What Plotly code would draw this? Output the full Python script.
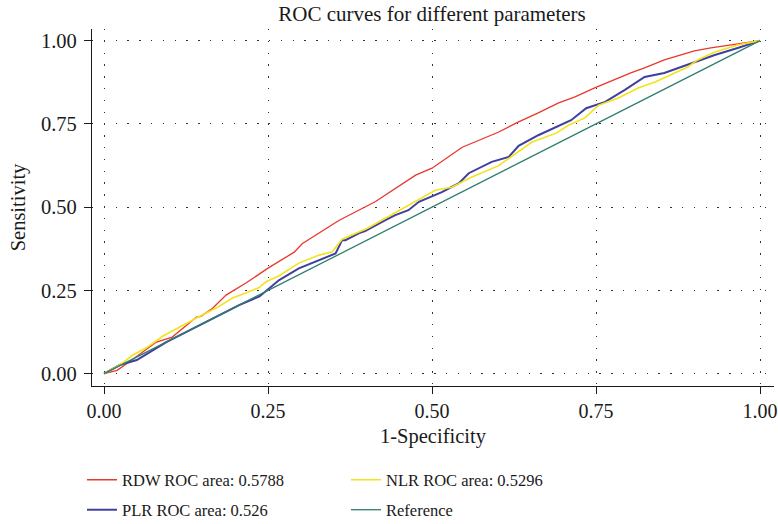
import plotly.graph_objects as go

# ---------------- data ----------------
rdw_x = [0.0, 0.02, 0.036, 0.08, 0.104, 0.141, 0.148, 0.166, 0.186, 0.217, 0.25, 0.29, 0.302,
         0.358, 0.414, 0.475, 0.5, 0.546, 0.601, 0.632, 0.662, 0.693, 0.718, 0.748, 0.803,
         0.824, 0.854, 0.9, 0.925, 0.966, 1.0]
rdw_y = [0.0, 0.01, 0.032, 0.095, 0.11, 0.17, 0.172, 0.197, 0.236, 0.273, 0.317, 0.365, 0.39,
         0.46, 0.517, 0.596, 0.617, 0.68, 0.725, 0.756, 0.783, 0.813, 0.831, 0.858, 0.903,
         0.918, 0.942, 0.969, 0.978, 0.99, 1.0]

plr_x = [0.0, 0.024, 0.05, 0.07, 0.095, 0.125, 0.146, 0.171, 0.206, 0.237, 0.257, 0.267, 0.297,
         0.328, 0.353, 0.363, 0.368, 0.389, 0.398, 0.429, 0.444, 0.464, 0.48, 0.515, 0.541,
         0.556, 0.591, 0.617, 0.632, 0.662, 0.688, 0.712, 0.735, 0.764, 0.794, 0.824, 0.854,
         0.88, 0.905, 0.931, 0.966, 1.0]
plr_y = [0.0, 0.026, 0.041, 0.065, 0.095, 0.125, 0.146, 0.17, 0.206, 0.232, 0.263, 0.281, 0.316,
         0.341, 0.361, 0.401, 0.401, 0.422, 0.428, 0.461, 0.476, 0.491, 0.516, 0.545, 0.572,
         0.602, 0.636, 0.651, 0.684, 0.716, 0.74, 0.761, 0.797, 0.816, 0.852, 0.891, 0.903,
         0.921, 0.939, 0.957, 0.978, 1.0]

nlr_x = [0.0, 0.024, 0.044, 0.064, 0.09, 0.12, 0.141, 0.171, 0.196, 0.216, 0.236, 0.247, 0.267,
         0.297, 0.328, 0.348, 0.363, 0.401, 0.449, 0.475, 0.505, 0.53, 0.56, 0.601, 0.621,
         0.652, 0.69, 0.708, 0.733, 0.754, 0.784, 0.814, 0.84, 0.87, 0.89, 0.905, 0.931,
         0.966, 1.0]
nlr_y = [0.0, 0.026, 0.056, 0.077, 0.113, 0.146, 0.167, 0.197, 0.227, 0.242, 0.258, 0.276, 0.294,
         0.332, 0.356, 0.366, 0.404, 0.436, 0.488, 0.516, 0.551, 0.56, 0.59, 0.624, 0.652,
         0.695, 0.723, 0.746, 0.768, 0.806, 0.828, 0.858, 0.876, 0.903, 0.921, 0.942, 0.966,
         0.987, 1.0]

ref_x = [0.0, 1.0]
ref_y = [0.0, 1.0]

names = ["RDW ROC area: 0.5788", "PLR ROC area: 0.526", "NLR ROC area: 0.5296", "Reference"]
tick_vals = [0.0, 0.25, 0.5, 0.75, 1.0]
tick_text = ["0.00", "0.25", "0.50", "0.75", "1.00"]

FONT = "Liberation Serif"
TXT = "#1a1a1a"

fig = go.Figure()
fig.add_trace(go.Scatter(x=rdw_x, y=rdw_y, mode="lines", name=names[0],
                         line=dict(color="#E8382B", width=1.3), legend="legend"))
fig.add_trace(go.Scatter(x=plr_x, y=plr_y, mode="lines", name=names[1],
                         line=dict(color="#3F3FA0", width=2.0), legend="legend2"))
fig.add_trace(go.Scatter(x=nlr_x, y=nlr_y, mode="lines", name=names[2],
                         line=dict(color="#F3E31B", width=1.6), legend="legend3"))
fig.add_trace(go.Scatter(x=ref_x, y=ref_y, mode="lines", name=names[3],
                         line=dict(color="#2E7C6F", width=1.3), legend="legend4"))

def px_x(p):
    return (p - 92) / 682.0

def px_y(p):
    return (386 - p) / 357.0

leg_common = dict(font=dict(family=FONT, size=16.5, color=TXT), bgcolor="rgba(0,0,0,0)",
                  xanchor="left", yanchor="middle", itemwidth=30)

fig.update_layout(
    width=778, height=524,
    margin=dict(l=92, r=4, t=29, b=138, autoexpand=False),
    paper_bgcolor="white", plot_bgcolor="white",
    font=dict(family=FONT, size=20.5, color=TXT),
    title=dict(text="ROC curves for different parameters", x=432 / 778, xref="container",
               xanchor="center", y=1 - 14 / 524, yref="container", yanchor="middle",
               font=dict(family=FONT, size=21, color=TXT)),
    legend=dict(x=px_x(82), y=px_y(480), **leg_common),
    legend2=dict(x=px_x(82), y=px_y(510), **leg_common),
    legend3=dict(x=px_x(346), y=px_y(480), **leg_common),
    legend4=dict(x=px_x(346), y=px_y(510), **leg_common),
    showlegend=True,
)

axis_common = dict(showline=True, linecolor=TXT, linewidth=1.3, ticks="outside",
                   ticklen=7, tickwidth=1.2, tickcolor=TXT, showgrid=True,
                   gridcolor="#333333", gridwidth=1.3, griddash="1.3px,10.5px",
                   zeroline=False, tickvals=tick_vals, ticktext=tick_text,
                   ticklabeloverflow="allow", mirror=False)

fig.update_xaxes(range=[-0.0183, 1.0213], title=dict(text="1-Specificity", standoff=7,
                 font=dict(family=FONT, size=20.5)),
                 tickfont=dict(family=FONT, size=20, color=TXT), **axis_common)
fig.update_yaxes(range=[-0.037, 1.035], title=dict(text="Sensitivity", standoff=9,
                 font=dict(family=FONT, size=20.5)), ticklabelstandoff=3,
                 tickfont=dict(family=FONT, size=20.5, color=TXT), **axis_common)

fig.write_html("out.html")
